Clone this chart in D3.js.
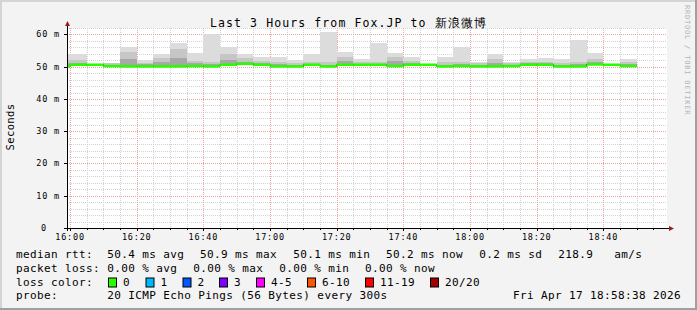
<!DOCTYPE html>
<html>
<head>
<meta charset="utf-8">
<script src="https://cdn.jsdelivr.net/npm/d3@7"></script>
<style>
  html, body { margin: 0; padding: 0; background: #f3f3f3; }
  text { font-family: "DejaVu Sans Mono", monospace; fill: #000; }
</style>
</head>
<body>
<div id="chart"></div>
<script>
// 5-minute steps (start time of each step), first one is cut by the graph start
const times = ["15:55","16:00","16:05","16:10","16:15","16:20","16:25","16:30","16:35","16:40",
  "16:45","16:50","16:55","17:00","17:05","17:10","17:15","17:20","17:25","17:30",
  "17:35","17:40","17:45","17:50","17:55","18:00","18:05","18:10","18:15","18:20",
  "18:25","18:30","18:35","18:40","18:45"];
// median rtt (ms)
const median = [50.1,50.6,50.6,50.2,50.1,50.1,50.1,50.1,50.2,50.1,
  50.6,50.9,50.6,50.1,50.1,50.6,50.1,50.6,50.6,50.6,
  50.2,50.6,50.6,50.1,50.2,50.1,50.1,50.2,50.6,50.6,
  50.1,50.1,50.7,50.6,50.2];
// smoke: lowest ping, inner bands and highest ping (ms)
const pingMin = [49.8,50.3,50.3,49.9,49.8,49.8,49.8,49.8,49.9,49.8,
  50.3,50.6,50.3,49.8,49.8,50.3,49.8,50.3,50.3,50.3,
  49.9,50.3,50.3,49.8,49.9,49.8,49.8,49.9,50.3,50.3,
  49.8,49.8,50.4,50.3,49.9];
const pingP60 = [51.2,51.2,50.7,50.6,52.4,50.7,51.4,52.8,51.0,50.8,
  52.2,51.6,51.2,50.8,50.6,50.9,50.6,51.8,50.9,50.9,
  51.7,51.0,50.7,50.6,50.7,50.5,51.2,50.5,51.0,51.0,
  50.6,50.7,51.5,50.7,50.8];
const pingP75 = [52.2,52.2,50.8,51.0,54.6,51.2,52.6,55.6,51.8,51.6,
  53.9,52.6,51.8,51.5,51.2,51.5,51.5,53.0,51.4,51.6,
  53.0,51.8,50.8,51.4,51.6,51.0,52.4,51.0,51.5,51.5,
  51.2,51.5,52.3,50.8,51.6];
const pingMax = [54.0,54.0,50.9,51.3,56.0,52.1,53.9,57.2,54.3,60.0,
  56.0,53.9,52.9,53.0,52.1,53.9,60.8,54.5,52.4,57.2,
  54.3,53.1,50.9,53.1,56.2,51.5,53.9,51.5,52.3,52.6,
  52.3,58.2,54.3,50.9,52.4];
const lossCount = times.map(() => 0);

const yTicks = [0, 10, 20, 30, 40, 50, 60];
const yTickLabels = ["0", "10 m", "20 m", "30 m", "40 m", "50 m", "60 m"];
const xTickLabels = ["16:00","16:20","16:40","17:00","17:20","17:40","18:00","18:20","18:40"];

const lossLabels = ["0", "1", "2", "3", "4-5", "6-10", "11-19", "20/20"];
const lossColors = ["#26ff00", "#00b8ff", "#0059ff", "#7e00ff", "#ff00ff", "#ff5500", "#ff0000", "#a10000"];
const lossLevels = [0, 1, 2, 3, 5, 10, 19, 20];

const rttStats = ["50.4 ms avg", "50.9 ms max", "50.1 ms min", "50.2 ms now", "0.2 ms sd", "218.9", "am/s"];
const lossStats = ["0.00 % avg", "0.00 % max", "0.00 % min", "0.00 % now"];
const probeText = "20 ICMP Echo Pings (56 Bytes) every 300s";
const stampText = "Fri Apr 17 18:58:38 2026";
const titleText = "Last 3 Hours from Fox.JP to 新浪微博";

const width = 697, height = 310;
const plot = { left: 67, right: 667, top: 28, bottom: 228 };

const parseT = d3.timeParse("%H:%M");
const parseTs = d3.timeParse("%H:%M:%S");
const tStart = parseTs("15:59:05");
const tEnd = parseTs("18:59:05");

const x = d3.scaleTime().domain([tStart, tEnd]).range([plot.left, plot.right]);
const y = d3.scaleLinear().domain([0, 62]).range([plot.bottom, plot.top]);

const svg = d3.select("#chart").append("svg")
  .attr("width", width)
  .attr("height", height);

// background and 3d frame
svg.append("rect").attr("width", width).attr("height", height).attr("fill", "#f3f3f3");
svg.append("rect").attr("x", 0).attr("y", 0).attr("width", width).attr("height", 2).attr("fill", "#d4d4d4");
svg.append("rect").attr("x", 0).attr("y", 0).attr("width", 2).attr("height", height).attr("fill", "#d4d4d4");
svg.append("rect").attr("x", 0).attr("y", height - 2).attr("width", width).attr("height", 2).attr("fill", "#a0a0a0");
svg.append("rect").attr("x", width - 2).attr("y", 0).attr("width", 2).attr("height", height).attr("fill", "#a0a0a0");

// canvas
svg.append("rect")
  .attr("x", plot.left).attr("y", plot.top)
  .attr("width", plot.right - plot.left).attr("height", plot.bottom - plot.top)
  .attr("fill", "#fff");

// grid
const grid = svg.append("g").attr("shape-rendering", "crispEdges").attr("stroke-dasharray", "1,1");
d3.range(2, 63, 2).filter(v => v % 10 !== 0).forEach(v => {
  grid.append("line")
    .attr("x1", plot.left).attr("x2", plot.right)
    .attr("y1", Math.round(y(v)) + 0.5).attr("y2", Math.round(y(v)) + 0.5)
    .attr("stroke", "#d2d2d2");
});
const minorTimes = d3.timeMinute.every(5).range(tStart, tEnd).filter(t => t.getMinutes() % 20 !== 0);
minorTimes.forEach(t => {
  grid.append("line")
    .attr("x1", Math.round(x(t)) + 0.5).attr("x2", Math.round(x(t)) + 0.5)
    .attr("y1", plot.top).attr("y2", plot.bottom)
    .attr("stroke", "#d2d2d2");
});
yTicks.slice(1).forEach(v => {
  grid.append("line")
    .attr("x1", plot.left).attr("x2", plot.right)
    .attr("y1", Math.round(y(v)) + 0.5).attr("y2", Math.round(y(v)) + 0.5)
    .attr("stroke", "#f2a0a0");
});
xTickLabels.forEach(s => {
  const t = parseT(s);
  grid.append("line")
    .attr("x1", Math.round(x(t)) + 0.5).attr("x2", Math.round(x(t)) + 0.5)
    .attr("y1", plot.top).attr("y2", plot.bottom)
    .attr("stroke", "#f2a0a0");
});

// bars of the smoke
const bars = times.map((s, i) => {
  const t0 = parseT(s);
  const t1 = d3.timeMinute.offset(t0, 5);
  return {
    x0: x(t0 < tStart ? tStart : t0),
    x1: x(t1),
    median: median[i], min: pingMin[i], p60: pingP60[i], p75: pingP75[i], max: pingMax[i],
    loss: lossCount[i]
  };
});

const smoke = svg.append("g").attr("shape-rendering", "crispEdges");
const layers = [
  { key: "max", color: "#dcdcdc" },
  { key: "p75", color: "#c6c6c6" },
  { key: "p60", color: "#a8a8a8" }
];
layers.forEach(l => {
  smoke.selectAll(null)
    .data(bars)
    .enter()
    .append("rect")
    .attr("x", d => d.x0)
    .attr("width", d => d.x1 - d.x0)
    .attr("y", d => y(d[l.key]))
    .attr("height", d => y(d.min) - y(d[l.key]))
    .attr("fill", l.color);
});

// median: dark step line with loss coloured band on top
const medianPts = bars.map(d => [d.x0, y(d.median)]);
medianPts.push([bars[bars.length - 1].x1, y(bars[bars.length - 1].median)]);
svg.append("path")
  .attr("d", d3.line().curve(d3.curveStepAfter)(medianPts))
  .attr("fill", "none")
  .attr("stroke", "#202020")
  .attr("stroke-width", 1);

const lossColor = d3.scaleThreshold()
  .domain(lossLevels.slice(0, -1).map(v => v + 0.5))
  .range(lossColors);

svg.append("g").selectAll("rect")
  .data(bars)
  .enter()
  .append("rect")
  .attr("x", d => d.x0)
  .attr("width", d => d.x1 - d.x0)
  .attr("y", d => y(d.median) - 1.3)
  .attr("height", 2.6)
  .attr("fill", d => lossColor(d.loss));

// axes
svg.append("line")
  .attr("x1", plot.left - 3).attr("x2", plot.right + 2)
  .attr("y1", plot.bottom + 0.5).attr("y2", plot.bottom + 0.5)
  .attr("stroke", "#000").attr("shape-rendering", "crispEdges");
svg.append("line")
  .attr("x1", plot.left + 0.5).attr("x2", plot.left + 0.5)
  .attr("y1", plot.bottom + 3).attr("y2", plot.top - 3)
  .attr("stroke", "#000").attr("shape-rendering", "crispEdges");
svg.append("path")
  .attr("d", `M${plot.right + 2},${plot.bottom - 2} L${plot.right + 7},${plot.bottom + 0.5} L${plot.right + 2},${plot.bottom + 3} Z`)
  .attr("fill", "#9b1c1c");
svg.append("path")
  .attr("d", `M${plot.left - 2},${plot.top - 2} L${plot.left + 0.5},${plot.top - 7} L${plot.left + 3},${plot.top - 2} Z`)
  .attr("fill", "#9b1c1c");

// tick marks
const ticks = svg.append("g").attr("stroke", "#000").attr("shape-rendering", "crispEdges");
xTickLabels.forEach(s => {
  const px = Math.round(x(parseT(s))) + 0.5;
  ticks.append("line").attr("x1", px).attr("x2", px).attr("y1", plot.bottom).attr("y2", plot.bottom + 3);
});
minorTimes.forEach(t => {
  const px = Math.round(x(t)) + 0.5;
  ticks.append("line").attr("x1", px).attr("x2", px).attr("y1", plot.bottom).attr("y2", plot.bottom + 2);
});
yTicks.forEach(v => {
  const py = Math.round(y(v)) + 0.5;
  ticks.append("line").attr("x1", plot.left - 3).attr("x2", plot.left).attr("y1", py).attr("y2", py);
});

// tick labels
svg.append("g").selectAll("text")
  .data(yTicks)
  .enter()
  .append("text")
  .attr("x", (d, i) => i === 0 ? 47 : 60)
  .attr("y", d => y(d) + 3)
  .attr("text-anchor", "end")
  .style("font-size", "8.5px")
  .style("letter-spacing", "0.8px")
  .text((d, i) => yTickLabels[i]);

svg.append("g").selectAll("text")
  .data(xTickLabels)
  .enter()
  .append("text")
  .attr("x", d => x(parseT(d)))
  .attr("y", plot.bottom + 12)
  .attr("text-anchor", "middle")
  .style("font-size", "8.5px")
  .style("letter-spacing", "0.8px")
  .text(d => d);

// title
svg.append("text")
  .attr("x", 210).attr("y", 26.5)
  .style("font-size", "11.5px")
  .style("letter-spacing", "1.1px")
  .text(titleText);

// vertical label
svg.append("text")
  .attr("transform", "translate(14,127) rotate(-90)")
  .attr("text-anchor", "middle")
  .style("font-size", "10.5px")
  .style("letter-spacing", "0.4px")
  .text("Seconds");

// watermark
svg.append("text")
  .attr("transform", "translate(685,5) rotate(90)")
  .style("font-size", "7px")
  .style("letter-spacing", "0.8px")
  .style("fill", "#b4b4b4")
  .text("RRDTOOL / TOBI OETIKER");

// legend
const leg = svg.append("g").style("font-size", "11px").style("letter-spacing", "0.38px");
const rows = [257.7, 271.6, 285.5, 299.3];

leg.append("text").attr("x", 16).attr("y", rows[0]).text("median rtt:");
const rttX = [107.3, 200, 293.3, 386, 479.3, 558.3, 614.3];
rttStats.forEach((s, i) => leg.append("text").attr("x", rttX[i]).attr("y", rows[0]).text(s));

leg.append("text").attr("x", 16).attr("y", rows[1]).text("packet loss:");
const lossX = [107.3, 193.3, 279.3, 365];
lossStats.forEach((s, i) => leg.append("text").attr("x", lossX[i]).attr("y", rows[1]).text(s));

leg.append("text").attr("x", 16).attr("y", rows[2]).text("loss color:");
const boxX = [108.5, 146, 183, 219.5, 256.5, 307.5, 365.5, 430.5];
lossLabels.forEach((s, i) => {
  leg.append("rect")
    .attr("x", boxX[i]).attr("y", rows[2] - 7.5)
    .attr("width", 8).attr("height", 9)
    .attr("fill", lossColors[i])
    .attr("stroke", "#000").attr("stroke-width", 1);
  leg.append("text").attr("x", boxX[i] + 14.5).attr("y", rows[2]).text(s);
});

leg.append("text").attr("x", 16).attr("y", rows[3]).text("probe:");
leg.append("text").attr("x", 107.3).attr("y", rows[3]).text(probeText);
leg.append("text").attr("x", 513).attr("y", rows[3]).text(stampText);
</script>
</body>
</html>
